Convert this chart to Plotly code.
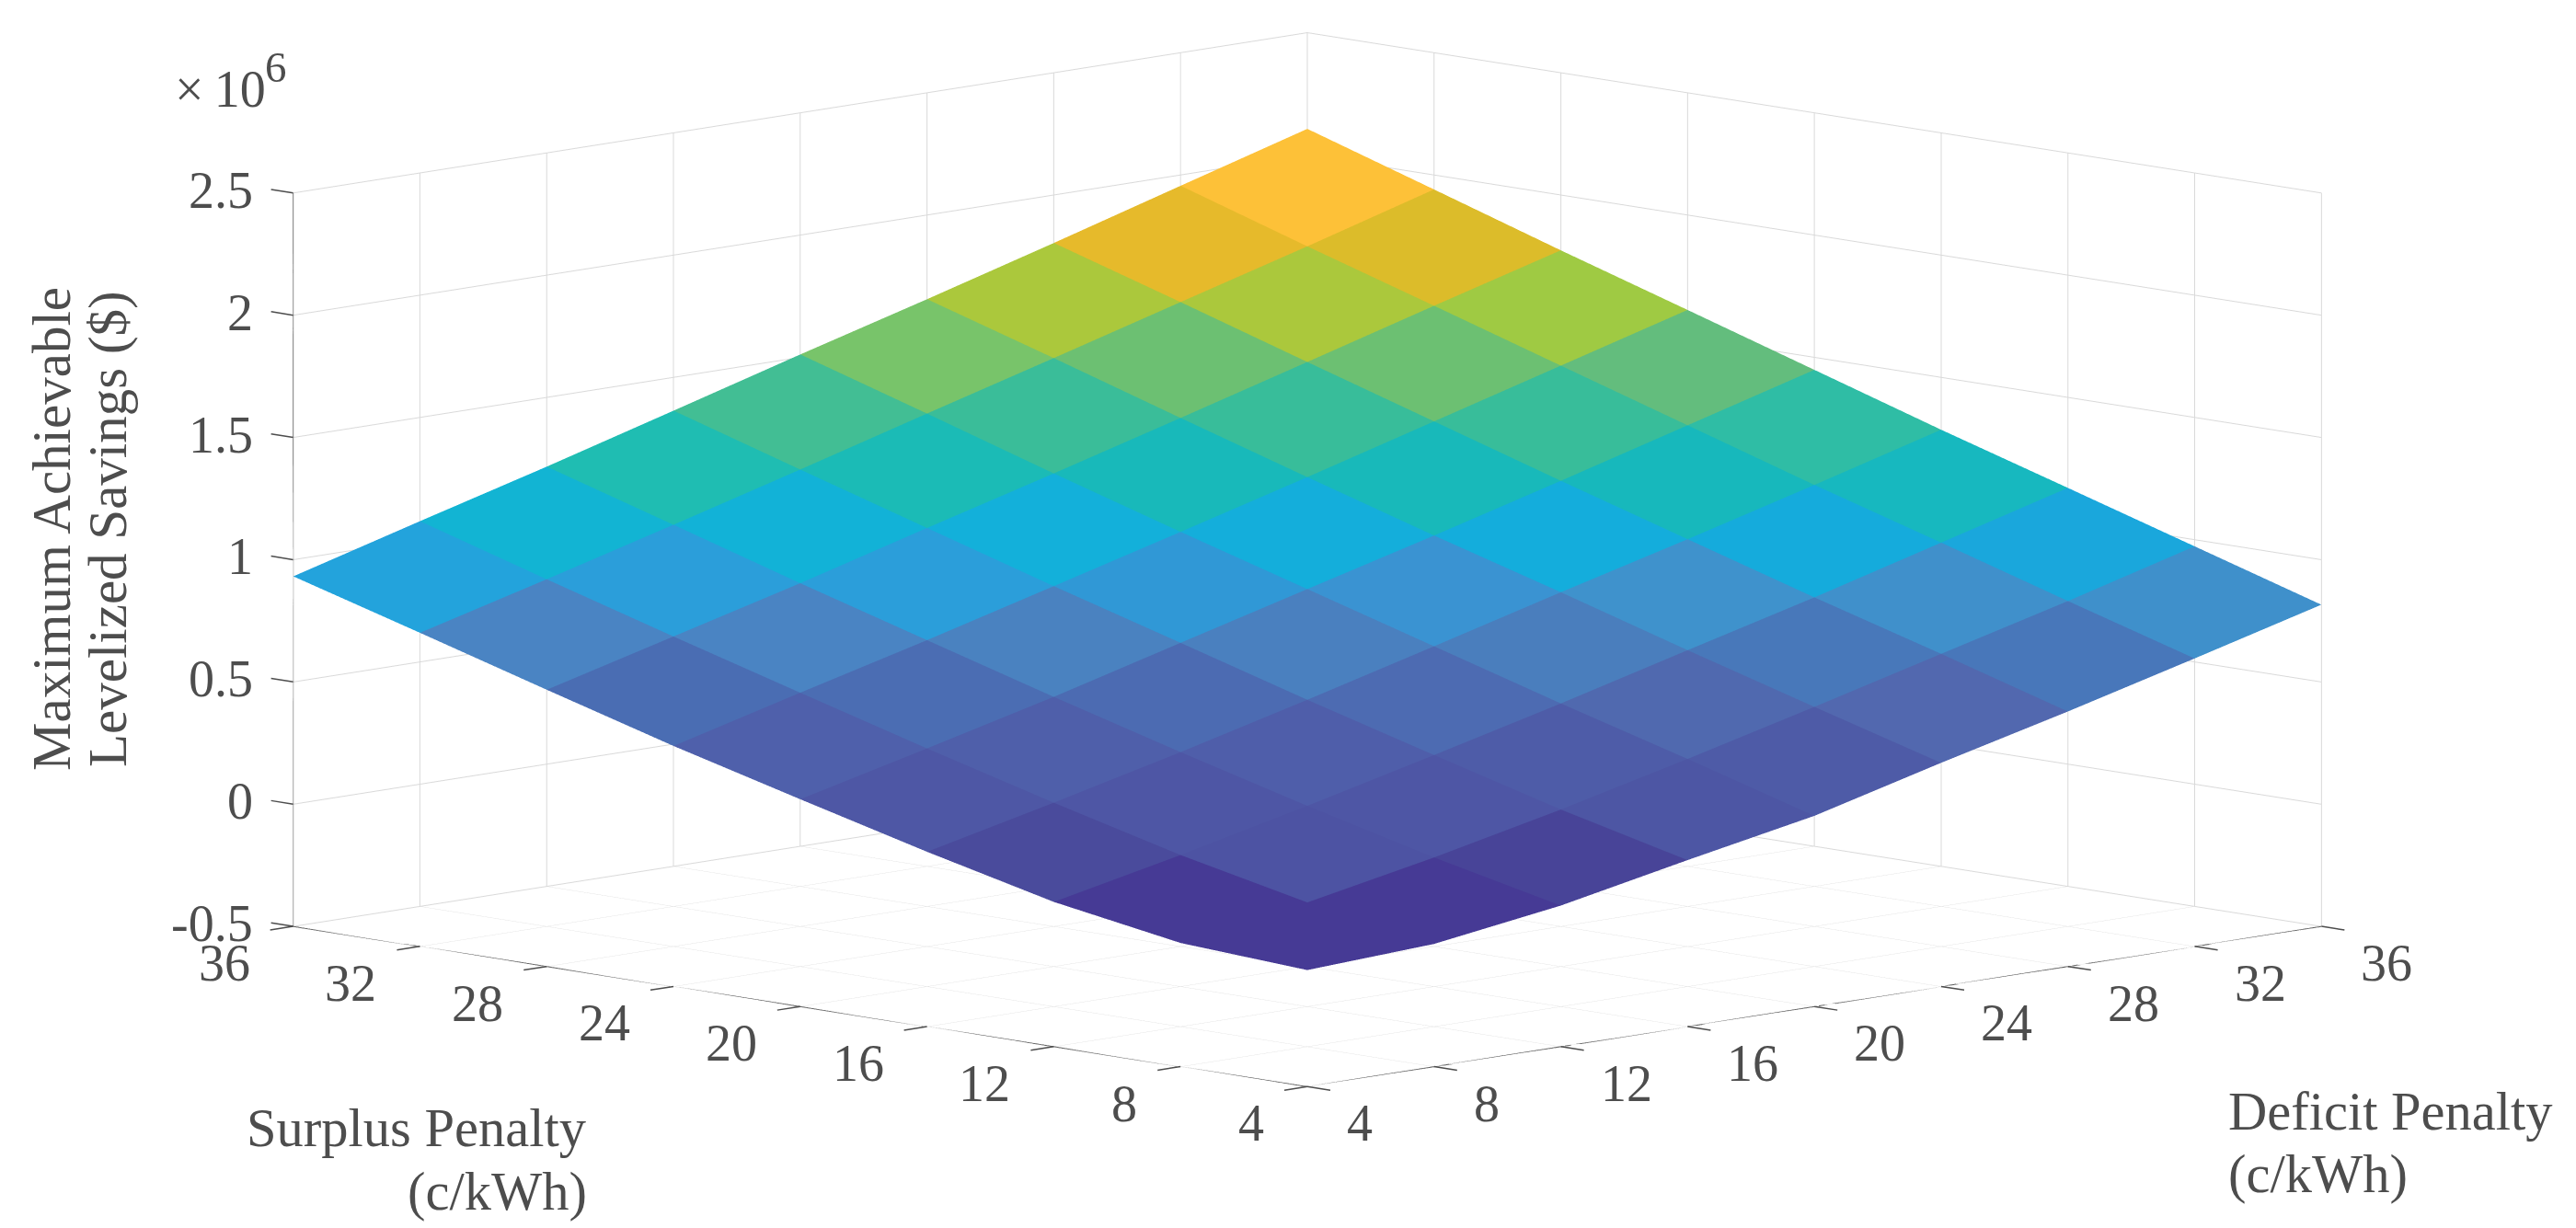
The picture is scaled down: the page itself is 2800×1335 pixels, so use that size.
import plotly.graph_objects as go

# Axes values (c/kWh)
DEFICIT = [4, 8, 12, 16, 20, 24, 28, 32, 36]
SURPLUS = [4, 8, 12, 16, 20, 24, 28, 32, 36]
# Savings in units of 1e6 $, one row per surplus value, one column per deficit value
SAVINGS = [
    [-0.023, 0.002, 0.077, 0.181, 0.280, 0.415, 0.543, 0.678, 0.816],
    [0.006, 0.090, 0.192, 0.306, 0.431, 0.562, 0.697, 0.831, 0.973],
    [0.092, 0.202, 0.321, 0.447, 0.576, 0.712, 0.846, 0.988, 1.130],
    [0.215, 0.334, 0.459, 0.591, 0.728, 0.867, 1.002, 1.142, 1.286],
    [0.348, 0.474, 0.603, 0.742, 0.880, 1.017, 1.159, 1.304, 1.449],
    [0.484, 0.620, 0.753, 0.892, 1.032, 1.174, 1.320, 1.466, 1.612],
    [0.632, 0.768, 0.904, 1.048, 1.189, 1.334, 1.481, 1.629, 1.774],
    [0.783, 0.920, 1.061, 1.205, 1.352, 1.497, 1.644, 1.790, 1.941],
    [0.932, 1.076, 1.217, 1.364, 1.512, 1.656, 1.804, 1.956, 2.107],
]
FACE_COLORS = [
    ["#463A95", "#463A95", "#484498", "#4D56A4", "#4E5BA7", "#5268AF", "#4877BA", "#3F90CB"],
    ["#463A95", "#4D53A3", "#4E56A5", "#4E5CA8", "#5069AF", "#4878BA", "#4090CB", "#1AA7DC"],
    ["#4A4B9C", "#4E56A5", "#4F5EAA", "#4D6BB2", "#4A7EBD", "#3F92CC", "#15ABDC", "#17B8BF"],
    ["#4E57A5", "#4F5FAA", "#4C6BB2", "#4A80BF", "#3A93D2", "#14ADDC", "#17B8BC", "#2FBDA5"],
    ["#4F60AB", "#4B6DB3", "#4A82C0", "#3098D6", "#14AEDB", "#18B9BA", "#38BD9A", "#63BD7D"],
    ["#4A6DB3", "#4A84C3", "#2B9EDA", "#13B0DA", "#18B9BA", "#38BD9A", "#6CC072", "#9FCA43"],
    ["#4A84C3", "#2B9EDA", "#12B2D7", "#1BBBB6", "#3ABD99", "#6CC072", "#ABC83C", "#DCBC2A"],
    ["#23A3DC", "#12B4D3", "#1FBDB2", "#42BE94", "#78C46A", "#ABC83C", "#E6BA2B", "#FDC138"],
]
Z_TICKS = [-0.5, 0, 0.5, 1, 1.5, 2, 2.5]
Z_LABELS = ["-0.5", "0", "0.5", "1", "1.5", "2", "2.5"]

FONT = "Liberation Serif"
INK = "#4D4D4D"
GRID = "#D9D9D9"

nx, ny = len(DEFICIT), len(SURPLUS)
xs, ys, zs, ii, jj, kk, fc = [], [], [], [], [], [], []
for r, sv in enumerate(SURPLUS):
    for c, dv in enumerate(DEFICIT):
        xs.append(dv); ys.append(sv); zs.append(SAVINGS[r][c])
for r in range(ny - 1):
    for c in range(nx - 1):
        a = r * nx + c
        b, d, e = a + 1, a + nx, a + nx + 1
        ii += [a, a]; jj += [b, e]; kk += [e, d]
        fc += [FACE_COLORS[r][c]] * 2

fig = go.Figure(go.Mesh3d(
    x=xs, y=ys, z=zs, i=ii, j=jj, k=kk, facecolor=fc, flatshading=True,
    lighting=dict(ambient=1, diffuse=0, specular=0, roughness=1, fresnel=0),
    hoverinfo="skip", showscale=False,
))
# dark axis lines along the three labelled box edges
x0, x1, y0, y1, z0, z1 = DEFICIT[0], DEFICIT[-1], SURPLUS[0], SURPLUS[-1], Z_TICKS[0], Z_TICKS[-1]
for ex, ey, ez in [
    (DEFICIT, [y0] * nx, [z0] * nx),
    ([x0] * ny, SURPLUS, [z0] * ny),
    ([x0] * len(Z_TICKS), [y1] * len(Z_TICKS), Z_TICKS),
]:
    fig.add_trace(go.Scatter3d(x=ex, y=ey, z=ez, mode="lines",
                               line=dict(color="#3F3F3F", width=2),
                               hoverinfo="skip", showlegend=False))


def axis(**kw):
    base = dict(
        showbackground=False, showspikes=False, zeroline=False, title=dict(text=""),
        showgrid=True, gridcolor=GRID, gridwidth=2,
        showline=False, ticks="", showticklabels=False,
    )
    base.update(kw)
    return base


tick_font = dict(family=FONT, size=56, color=INK)
title_font = dict(family=FONT, size=58.5, color=INK)
TICK_ARROW = dict(text=" ", showarrow=True, arrowhead=0, arrowwidth=1.5, arrowcolor=INK,
                  standoff=0, startstandoff=0)
scene_notes = []
for v in DEFICIT:
    scene_notes.append(dict(x=v, y=y0, z=z0, text=str(v), showarrow=False,
                            xanchor="left", yanchor="middle", xshift=41, yshift=-40, font=tick_font))
    scene_notes.append(dict(x=v, y=y0, z=z0, ax=28, ay=4.4, **TICK_ARROW))
for v in SURPLUS:
    scene_notes.append(dict(x=x0, y=v, z=z0, text=str(v), showarrow=False,
                            xanchor="right", yanchor="middle", xshift=-45, yshift=-40, font=tick_font))
    scene_notes.append(dict(x=x0, y=v, z=z0, ax=-28, ay=4.4, **TICK_ARROW))
for v, t in zip(Z_TICKS, Z_LABELS):
    scene_notes.append(dict(x=x0, y=y1, z=v, text=t, showarrow=False,
                            xanchor="right", yanchor="middle", xshift=-42, yshift=3, font=tick_font))
    scene_notes.append(dict(x=x0, y=y1, z=v, ax=-27, ay=-4.3, **TICK_ARROW))

SCALE = 2.562
d = 3.0


def paper_text(text, px, py, font, **kw):
    return dict(text=text, xref="paper", yref="paper", x=px / 2800, y=1 - py / 1335,
                yanchor="middle", showarrow=False, font=font, **kw)


fig.update_layout(
    width=2800, height=1335, margin=dict(l=0, r=0, t=0, b=0),
    paper_bgcolor="white", showlegend=False,
    scene=dict(
        domain=dict(x=[0.015, 1], y=[0.0885, 1]),
        xaxis=axis(range=[x0, x1], tickvals=DEFICIT),
        yaxis=axis(range=[y0, y1], tickvals=SURPLUS),
        zaxis=axis(range=[z0, z1], tickvals=Z_TICKS),
        aspectmode="manual", aspectratio=dict(x=SCALE, y=SCALE, z=0.518 * SCALE),
        camera=dict(eye=dict(x=-d, y=-d, z=0.2264 * d), up=dict(x=0, y=0, z=1),
                    center=dict(x=0, y=0, z=0),
                    projection=dict(type="orthographic")),
        annotations=scene_notes,
    ),
    annotations=[
        paper_text("×\u200910", 188, 97, dict(family=FONT, size=56, color=INK), xanchor="left"),
        paper_text("6", 300, 73, dict(family=FONT, size=47, color=INK), xanchor="center"),
        paper_text("Maximum Achievable", 56, 575, dict(family=FONT, size=59, color=INK),
                   xanchor="center", textangle=-90),
        paper_text("Levelized Savings ($)", 117, 575, dict(family=FONT, size=59, color=INK),
                   xanchor="center", textangle=-90),
        paper_text("Surplus Penalty", 640, 1226, title_font, xanchor="right"),
        paper_text("(c/kWh)", 640, 1295, title_font, xanchor="right"),
        paper_text("Deficit Penalty", 2420, 1208, title_font, xanchor="left"),
        paper_text("(c/kWh)", 2420, 1276, title_font, xanchor="left"),
    ],
)
fig.write_html("out.html", config=dict(displayModeBar=False),
               post_script="document.body.style.margin='0';")
